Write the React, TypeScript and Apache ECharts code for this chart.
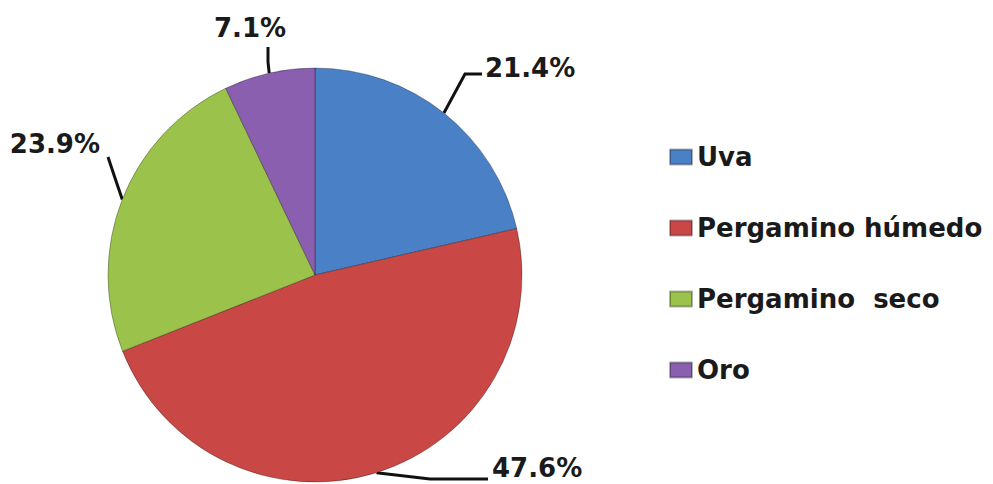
import React, { useEffect, useRef } from "react";
import * as echarts from "echarts";

const categories = ["Uva", "Pergamino húmedo", "Pergamino  seco", "Oro"];
const values = [21.4, 47.6, 23.9, 7.1];
const colors = ["#4a80c6", "#c94845", "#9bc24a", "#8a5fb0"];

const FONT = "'DejaVu Sans', sans-serif";

// label placement (layout only)
const labelPlacement: Record<number, any> = {
  0: { x: 485, y: 68, align: "left", pts: [[465, 74], [482, 74]] },
  1: { x: 492, y: 468, align: "left", pts: [[430, 479], [488, 479]] },
  2: { x: 100, y: 144, align: "right", pts: [[115, 178], [108, 157]] },
  3: { x: 250, y: 28, align: "center", pts: [[268, 62], [268, 47]] },
};

export default function App() {
  const ref = useRef<HTMLDivElement>(null);
  useEffect(() => {
    const chart = echarts.init(ref.current!, undefined, { renderer: "svg" });
    chart.setOption({
      animation: false,
      backgroundColor: "#ffffff",
      legend: {
        orient: "vertical",
        left: 664,
        top: 137,
        itemWidth: 22,
        itemHeight: 15,
        itemGap: 41,
        icon: "rect",
        textStyle: {
          fontFamily: FONT,
          fontWeight: "bold",
          fontSize: 26,
          lineHeight: 30,
          color: "#1a1a1a",
        },
        data: categories,
      },
      series: [
        {
          type: "pie",
          center: [315, 275],
          radius: 207,
          startAngle: 90,
          clockwise: true,
          data: categories.map((c, i) => ({
            name: c,
            value: values[i],
            itemStyle: { color: colors[i] },
          })),
          itemStyle: { borderColor: "rgba(0,0,0,0.3)", borderWidth: 1 },
          label: {
            show: true,
            position: "outside",
            formatter: (p: any) => p.value.toFixed(1) + "%",
            fontFamily: FONT,
            fontWeight: "bold",
            fontSize: 26,
            color: "#1a1a1a",
            overflow: "none",
            width: 200,
          },
          labelLine: {
            show: true,
            length: 20,
            length2: 20,
            lineStyle: { color: "#111", width: 3 },
          },
          labelLayout: (params: any) => {
            const p = labelPlacement[params.dataIndex];
            const edge = params.labelLinePoints ? params.labelLinePoints[0] : p.pts[0];
            return {
              x: p.x,
              y: p.y,
              align: p.align,
              verticalAlign: "middle",
              labelLinePoints: [edge, p.pts[0], p.pts[1]],
            };
          },
          emphasis: { disabled: true },
        },
      ],
    });
    return () => chart.dispose();
  }, []);
  return (
    <div
      ref={ref}
      style={{ position: "fixed", left: 0, top: 0, width: 993, height: 484 }}
    />
  );
}
